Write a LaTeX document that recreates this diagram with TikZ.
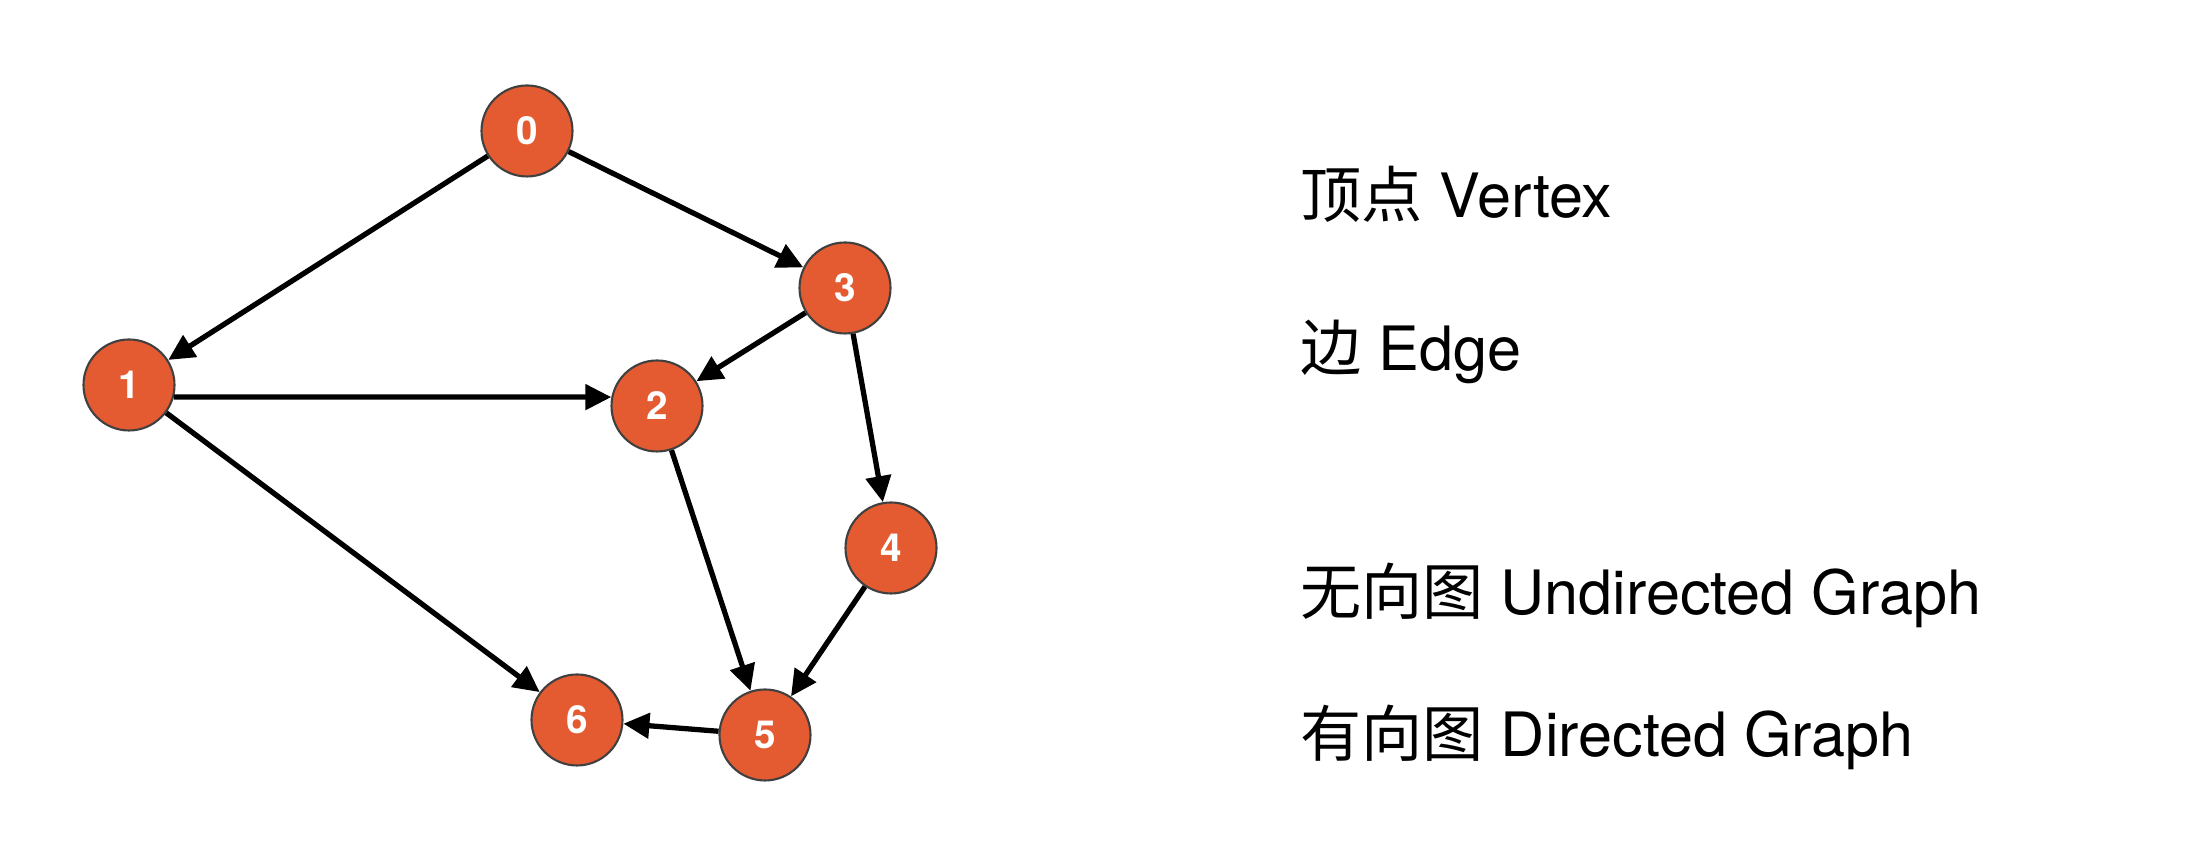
\documentclass[tikz,border=0pt]{standalone}
\usepackage{fontspec}
\setmainfont{TeX Gyre Heros}
\newfontfamily\cjk{Noto Sans CJK SC}
\usepackage{tikz}
\usetikzlibrary{positioning, arrows.meta}
\definecolor{vertexfill}{HTML}{E55B31}
\tikzset{
    vertex/.style={circle, fill=vertexfill, draw=black!75, line width=0.6pt,
        minimum size=0.91cm, inner sep=0pt, text=white,
        font=\fontsize{11}{11}\selectfont\bfseries},
    label/.style={anchor=base west, font=\fontsize{17.4}{20}\selectfont},
    >={Triangle[length=7.4pt,width=7.1pt]},
}

\begin{document}
\begin{tikzpicture}
    \useasboundingbox (0,0) rectangle (21.96,8.64);

        \node[vertex] (v0) at (5.27,7.33) {0};
        \node[vertex] (v1) at (1.29,4.79) {1};
        \node[vertex] (v2) at (6.57,4.58) {2};
        \node[vertex] (v3) at (8.45,5.76) {3};
        \node[vertex] (v4) at (8.91,3.16) {4};
        \node[vertex] (v5) at (7.65,1.29) {5};
        \node[vertex] (v6) at (5.77,1.44) {6};

    \path[->, line width=1.5pt]
        (v0) edge (v1)
            edge (v3)
        (v1.-15) edge (v2.169)
        (v1) edge (v6)
        (v3) edge (v2)
            edge (v4)
        (v2) edge (v5)
        (v4) edge (v5)
        (v5) edge (v6);

        % right hand notes
        \node[label] (tvertex) at (12.88,6.46) {{\cjk 顶点} Vertex};
        \node[label] (tedge) at (12.88,4.93) {{\cjk 边} Edge};
        \node[label] (tundir) at (12.88,2.49) {{\cjk 无向图} Undirected Graph};
        \node[label] (tdir) at (12.88,1.07) {{\cjk 有向图} Directed Graph};
\end{tikzpicture}
\end{document}
